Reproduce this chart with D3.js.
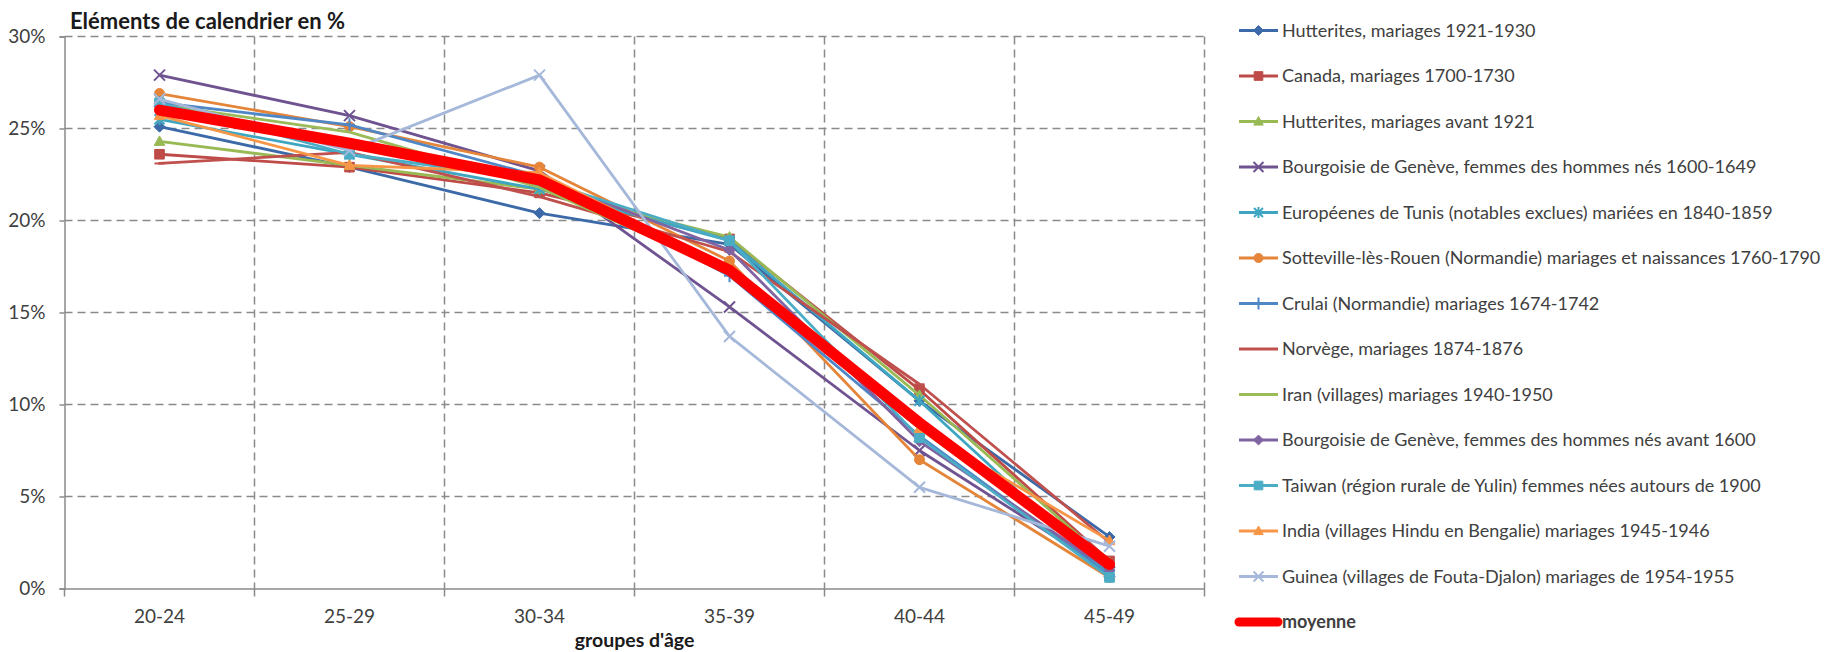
<!DOCTYPE html>
<html><head><meta charset="utf-8">
<script src="https://cdn.jsdelivr.net/npm/d3@7"></script>
<style>body{margin:0;background:#fff}svg{display:block}</style>
</head><body><svg id="c" width="1838" height="652"></svg>
<script>
// ---- data ----
const categories = ["20-24", "25-29", "30-34", "35-39", "40-44", "45-49"];
const yTickValues = [0, 5, 10, 15, 20, 25, 30];
const seriesNames = [
  "Hutterites, mariages 1921-1930",
  "Canada, mariages 1700-1730",
  "Hutterites, mariages avant  1921",
  "Bourgoisie de Genève, femmes des hommes nés 1600-1649",
  "Européenes de Tunis (notables exclues) mariées en 1840-1859",
  "Sotteville-lès-Rouen (Normandie) mariages et naissances 1760-1790",
  "Crulai (Normandie) mariages 1674-1742",
  "Norvège, mariages 1874-1876",
  "Iran (villages) mariages 1940-1950",
  "Bourgoisie de Genève, femmes des hommes nés avant 1600",
  "Taiwan (région rurale de Yulin) femmes nées autours de 1900",
  "India (villages Hindu en Bengalie) mariages 1945-1946",
  "Guinea (villages de Fouta-Djalon) mariages de 1954-1955",
  "moyenne"
];
const hutterites1921 = [25.1, 22.9, 20.4, 18.7, 10.2, 2.8];
const canada1700 = [23.6, 22.9, 21.5, 19.0, 10.8, 1.5];
const hutterivesAvant1921 = [24.3, 23.0, 21.7, 19.1, 10.5, 1.4];
const geneve1600 = [27.9, 25.7, 22.7, 15.3, 7.5, 0.9];
const tunis = [25.5, 23.6, 21.7, 18.9, 10.2, 0.7];
const sotteville = [26.9, 25.1, 22.9, 17.8, 7.0, 0.6];
const crulai = [26.4, 25.2, 22.4, 17.0, 8.3, 0.7];
const norvege = [23.1, 23.7, 21.3, 18.3, 11.1, 2.5];
const iran = [26.3, 24.8, 21.8, 17.2, 8.7, 1.2];
const geneveAvant1600 = [26.2, 24.0, 22.3, 18.4, 8.0, 1.0];
const taiwan = [26.4, 23.6, 22.2, 18.9, 8.2, 0.6];
const india = [25.7, 23.0, 22.6, 17.4, 8.7, 2.6];
const guinea = [26.6, 23.8, 27.9, 13.7, 5.5, 2.3];
const moyenne = [26.0, 24.2, 22.2, 17.3, 9.0, 1.3];

const seriesValues = [hutterites1921, canada1700, hutterivesAvant1921, geneve1600, tunis,
  sotteville, crulai, norvege, iran, geneveAvant1600, taiwan, india, guinea, moyenne];
const seriesColors = ["#3C6AA8", "#BE4B48", "#98B954", "#6F5290", "#3FA6C2", "#E5853A",
  "#4F86C6", "#C0504D", "#9BBB59", "#8064A2", "#4BACC6", "#F79646", "#A5B8DA", "#FF0000"];
const seriesMarkers = ["diamond", "square", "triangle", "x", "star", "circle",
  "plus", "dash", "none", "diamond", "square", "triangle", "x", "none"];

// ---- layout ----
const FONT = "Lato, 'Open Sans', sans-serif";
const svg = d3.select("#c");
const plot = {left: 64.5, right: 1204.5, top: 36.5, bottom: 588.5};

const x = d3.scaleBand().domain(categories).range([plot.left, plot.right]);
const y = d3.scaleLinear().domain([0, 30]).range([plot.bottom, plot.top]);
const cx = c => x(c) + x.bandwidth() / 2;

// grid
const grid = svg.append("g");
grid.selectAll("line.h").data(yTickValues.filter(v => v > 0)).join("line")
  .attr("x1", plot.left).attr("x2", plot.right)
  .attr("y1", d => y(d)).attr("y2", d => y(d))
  .attr("stroke", "#8a8a8a").attr("stroke-width", 1.5).attr("stroke-dasharray", "8,5");
grid.selectAll("line.v").data(categories).join("line")
  .attr("x1", d => x(d) + x.bandwidth()).attr("x2", d => x(d) + x.bandwidth())
  .attr("y1", plot.top).attr("y2", plot.bottom)
  .attr("stroke", "#8a8a8a").attr("stroke-width", 1.5).attr("stroke-dasharray", "8,5");

// y axis
const yAxis = svg.append("g").attr("transform", `translate(${plot.left},0)`)
  .call(d3.axisLeft(y).tickValues(yTickValues).tickFormat(d => d + "%").tickSize(5).tickPadding(14));
yAxis.select(".domain").attr("stroke", "#8a8a8a").attr("stroke-width", 1.5);
yAxis.selectAll(".tick line").attr("stroke", "#8a8a8a").attr("stroke-width", 1.5);
yAxis.selectAll("text").attr("font-family", FONT).attr("font-size", 19).attr("fill", "#404040");

// x axis
const xAxis = svg.append("g").attr("transform", `translate(0,${plot.bottom})`)
  .call(d3.axisBottom(x).tickSize(0).tickPadding(21));
xAxis.select(".domain").attr("stroke", "#8a8a8a").attr("stroke-width", 1.5);
xAxis.selectAll("text").attr("font-family", FONT).attr("font-size", 19).attr("fill", "#404040");
const boundaries = [plot.left].concat(categories.map(c => x(c) + x.bandwidth()));
svg.append("g").selectAll("line").data(boundaries).join("line")
  .attr("x1", d => d).attr("x2", d => d)
  .attr("y1", plot.bottom).attr("y2", plot.bottom + 8)
  .attr("stroke", "#8a8a8a").attr("stroke-width", 1.5);

// titles
svg.append("text").attr("x", 70).attr("y", 29)
  .attr("font-family", FONT).attr("font-weight", "bold").attr("font-size", 22).attr("fill", "#1a1a1a")
  .text("Eléments de calendrier en %");
svg.append("text").attr("x", (plot.left + plot.right) / 2).attr("y", 647)
  .attr("text-anchor", "middle")
  .attr("font-family", FONT).attr("font-weight", "bold").attr("font-size", 19.5).attr("fill", "#1a1a1a")
  .text("groupes d'âge");

// markers
function markerPath(type, r) {
  switch (type) {
    case "diamond": return `M0,${-r}L${r},0L0,${r}L${-r},0Z`;
    case "square": return `M${-r},${-r}H${r}V${r}H${-r}Z`;
    case "triangle": return `M0,${-r * 1.1}L${r * 1.05},${r * 0.8}L${-r * 1.05},${r * 0.8}Z`;
    case "circle": return `M${r},0A${r},${r} 0 1,1 ${-r},0A${r},${r} 0 1,1 ${r},0Z`;
    case "x": return `M${-r},${-r}L${r},${r}M${-r},${r}L${r},${-r}`;
    case "star": return `M${-r},${-r}L${r},${r}M${-r},${r}L${r},${-r}M0,${-r * 1.2}V${r * 1.2}`;
    case "plus": return `M${-r},0H${r}M0,${-r * 1.2}V${r * 1.2}`;
    case "dash": return `M${-r},0H${r}`;
    default: return "";
  }
}
const filledMarkers = new Set(["diamond", "square", "triangle", "circle"]);
const markerSize = {diamond: 5.5, square: 4.8, triangle: 5, circle: 5, x: 5.5, star: 5, plus: 5.5, dash: 5};

const line = d3.line().x((d, i) => cx(categories[i])).y(d => y(d));

const seriesData = seriesNames.map((n, i) => ({
  name: n, values: seriesValues[i], color: seriesColors[i], marker: seriesMarkers[i], isMean: i === seriesNames.length - 1
}));

const lines = svg.append("g");
seriesData.forEach(s => {
  const g = lines.append("g");
  g.append("path").attr("d", line(s.values)).attr("fill", "none")
    .attr("stroke", s.color).attr("stroke-width", s.isMean ? 11 : 2.8)
    .attr("stroke-linejoin", "round").attr("stroke-linecap", "round");
  if (s.marker !== "none") {
    g.selectAll("path.m").data(s.values).join("path").attr("class", "m")
      .attr("transform", (d, i) => `translate(${cx(categories[i])},${y(d)})`)
      .attr("d", markerPath(s.marker, markerSize[s.marker]))
      .attr("fill", filledMarkers.has(s.marker) ? s.color : "none")
      .attr("stroke", s.color).attr("stroke-width", filledMarkers.has(s.marker) ? 1 : 2);
  }
});

// legend
const legend = svg.append("g");
seriesData.forEach((s, i) => {
  const ly = 30.5 + i * 45.5;
  const g = legend.append("g").attr("transform", `translate(1239,${ly})`);
  g.append("line").attr("x1", 0).attr("x2", 39).attr("y1", 0).attr("y2", 0)
    .attr("stroke", s.color).attr("stroke-width", s.isMean ? 9 : 2.8).attr("stroke-linecap", s.isMean ? "round" : "butt");
  if (s.marker !== "none") {
    g.append("path").attr("transform", "translate(19.5,0)")
      .attr("d", markerPath(s.marker, markerSize[s.marker] * 0.9))
      .attr("fill", filledMarkers.has(s.marker) ? s.color : "none")
      .attr("stroke", s.color).attr("stroke-width", filledMarkers.has(s.marker) ? 1 : 2);
  }
  g.append("text").attr("x", 43).attr("y", 0).attr("dy", "0.35em")
    .attr("font-family", FONT).attr("font-size", 18).attr("fill", "#404040")
    .attr("font-weight", s.isMean ? "bold" : "normal")
    .text(s.name);
});
</script>
</body></html>
